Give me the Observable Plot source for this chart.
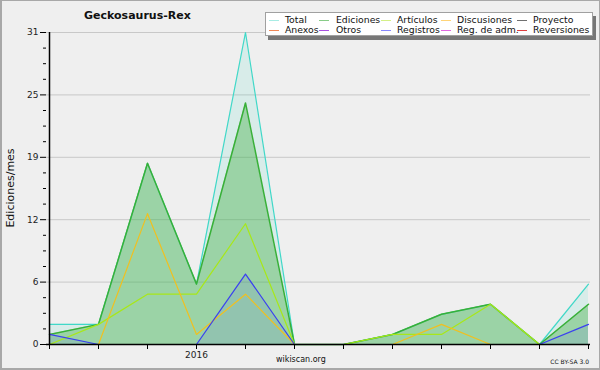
<!DOCTYPE html>
<html>
<head>
<meta charset="utf-8">
<script src="https://cdn.jsdelivr.net/npm/d3@7"></script>
<script src="https://cdn.jsdelivr.net/npm/@observablehq/plot@0.6"></script>
<style>
  html, body { margin: 0; padding: 0; background: #efefef; }
  #wrap { position: relative; width: 600px; height: 370px; overflow: hidden; font-family: "DejaVu Sans", sans-serif; color: #111; }
  #border { position: absolute; left: 0; top: 0; width: 600px; height: 370px; box-sizing: border-box; border: 1px solid #a8a8a8; border-width: 1px 1px 2px 2px; pointer-events: none; }
  .abs { position: absolute; white-space: nowrap; }
  #legend { position: absolute; left: 265px; top: 12px; width: 328px; height: 24px; background: #fff; border: 1px solid #a0a0a0; box-shadow: 3px 4px 0 #777; box-sizing: border-box; }
  .sw { position: absolute; width: 10px; height: 1px; }
  .lt { position: absolute; font-size: 9.3px; line-height: 10px; color: #111; }
</style>
</head>
<body>
<div id="wrap">
  <div id="chart"></div>
  <div class="abs" id="title" style="left:84px; top:9px; font-size:11px; font-weight:bold;">Geckosaurus-Rex</div>
  <div class="abs" id="ylab" style="left:10px; top:188px; font-size:11px; transform: translate(-50%,-50%) rotate(-90deg);">Ediciones/mes</div>
  <div class="abs" style="left:276px; top:355px; font-size:8px;">wikiscan.org</div>
  <div class="abs" style="right:11px; top:358px; font-size:6px;">CC BY-SA 3.0</div>
  <div id="legend"></div>
  <div id="border"></div>
</div>
<script>
const months = ["2015-10","2015-11","2015-12","2016-01","2016-02","2016-03","2016-04","2016-05","2016-06","2016-07","2016-08","2016-09"];
const total       = [2, 2, 18, 6, 31, 0, 0, 1, 3, 4, 0, 6];
const ediciones   = [1, 2, 18, 6, 24, 0, 0, 1, 3, 4, 0, 4];
const articulos   = [0, 2, 5, 5, 12, 0, 0, 1, 1, 4, 0, 0];
const discusiones = [0, 0, 13, 1, 5, 0, 0, 0, 2, 0, 0, 0];
const registros   = [1, 0, 0, 0, 7, 0, 0, 0, 0, 0, 0, 2];
const yMax = 31;
const yTickLabels = [0, 6, 12, 19, 25, 31];
const legendNames = ["Total","Ediciones","Artículos","Discusiones","Proyecto","Anexos","Otros","Registros","Reg. de adm.","Reversiones"];
const legendColors = ["#a8ece4","#88cc88","#d4f088","#ffd478","#707070","#f08858","#a850e0","#8888ff","#e068e0","#e04040"];

const data = months.map((m, i) => ({
  month: m, total: total[i], ediciones: ediciones[i], articulos: articulos[i],
  discusiones: discusiones[i], registros: registros[i]
}));
const majorTicks = d3.range(6).map(k => yMax * k / 5);
const minorTicks = d3.range(21).map(k => yMax * k / 20).filter((v, k) => k % 4 !== 0);

const chart = Plot.plot({
  width: 600,
  height: 370,
  marginLeft: 46,
  marginRight: 10,
  marginTop: 32,
  marginBottom: 26,
  style: { background: "transparent", fontFamily: "DejaVu Sans, sans-serif", fontSize: "9px", color: "#222" },
  x: { type: "point", domain: months, padding: 0 },
  y: { domain: [0, yMax] },
  marks: [
    Plot.ruleY(majorTicks.slice(1), { stroke: "#c8c8c8", strokeWidth: 1 }),
    Plot.areaY(data, { x: "month", y: "total", fill: "#40d8c0", fillOpacity: 0.13 }),
    Plot.areaY(data, { x: "month", y: "ediciones", fill: "#40b040", fillOpacity: 0.4 }),
    Plot.areaY(data, { x: "month", y: "registros", fill: "#4040ff", fillOpacity: 0.1 }),
    Plot.lineY(data, { x: "month", y: "total", stroke: "#40d8c8", strokeWidth: 1.2 }),
    Plot.lineY(data, { x: "month", y: "ediciones", stroke: "#38b038", strokeWidth: 1.5 }),
    Plot.lineY(data, { x: "month", y: "articulos", stroke: "#a8e818", strokeWidth: 1.2 }),
    Plot.lineY(data, { x: "month", y: "discusiones", stroke: "#f0c020", strokeWidth: 1.2 }),
    Plot.lineY(data, { x: "month", y: "registros", stroke: "#3a40f0", strokeWidth: 1.2 }),
    Plot.axisY(majorTicks, { tickSize: 6, tickPadding: 2, tickFormat: (d, i) => String(yTickLabels[i]), label: null, stroke: "#000", fill: "#222" }),
    Plot.axisY(minorTicks, { tickSize: 3, tickFormat: () => "", label: null, stroke: "#000" }),
    Plot.axisX(months, { tickSize: 5, tickPadding: 2, tickFormat: d => d === "2016-01" ? "2016" : "", label: null, stroke: "#000", fill: "#222" }),
    Plot.ruleX([months[0]], { y1: 0, y2: yMax, stroke: "#000", strokeWidth: 1.5 }),
    Plot.ruleY([0], { stroke: "#000", strokeWidth: 1.5 })
  ]
});
document.getElementById("chart").appendChild(chart);

const legend = document.getElementById("legend");
const colX = [3, 53, 115, 175, 251];
const textX = [19, 70, 131, 191, 267];
legendNames.forEach((name, i) => {
  const col = i % 5, row = Math.floor(i / 5);
  const sw = document.createElement("div");
  sw.className = "sw";
  sw.style.left = colX[col] + "px";
  sw.style.top = (row === 0 ? 7 : 17) + "px";
  sw.style.background = legendColors[i];
  legend.appendChild(sw);
  const t = document.createElement("div");
  t.className = "lt";
  t.textContent = name;
  t.style.left = textX[col] + "px";
  t.style.top = (row === 0 ? 2 : 12) + "px";
  legend.appendChild(t);
});
</script>
</body>
</html>
